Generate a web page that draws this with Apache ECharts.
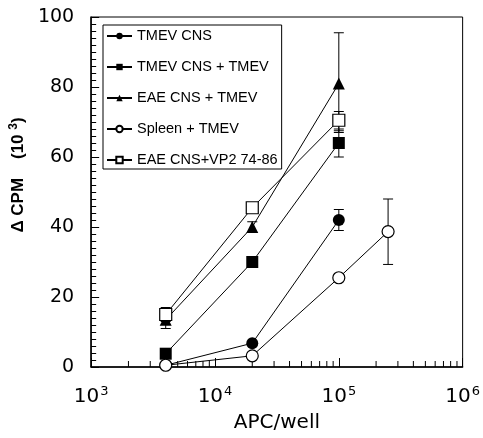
<!DOCTYPE html>
<html><head><meta charset="utf-8">
<script src="https://cdn.jsdelivr.net/npm/echarts@6/dist/echarts.min.js"></script>
<style>html,body{margin:0;padding:0;background:#fff}#c{width:483px;height:438px}</style>
</head><body><div id="c"></div>
<script>
// ---- data ----
const seriesNames = ['TMEV CNS', 'TMEV CNS + TMEV', 'EAE CNS + TMEV', 'Spleen + TMEV', 'EAE CNS+VP2 74-86'];
const xTmevCns = [4000, 20000, 100000];
const yTmevCns = [0.5, 6.8, 42];
const errTmevCns = [[100000, 39, 45]];
const xTmevCnsTmev = [4000, 20000, 100000];
const yTmevCnsTmev = [3.8, 30, 64];
const errTmevCnsTmev = [[100000, 60, 68]];
const xEaeCnsTmev = [4000, 20000, 100000];
const yEaeCnsTmev = [13.5, 40, 81];
const errEaeCnsTmev = [[4000, 11, 16], [20000, 38.5, 41.5], [100000, 67, 95.5]];
const xSpleen = [4000, 20000, 100000, 250000];
const ySpleen = [0.5, 3.2, 25.5, 38.7];
const errSpleen = [[250000, 29.3, 48]];
const xEaeVp2 = [4000, 20000, 100000];
const yEaeVp2 = [15, 45.5, 70.5];
const errEaeVp2 = [[4000, 13, 17], [100000, 67.5, 73]];
const yTicks = [0, 20, 40, 60, 80, 100];
const xDecades = [1000, 10000, 100000, 1000000];
const xMinorTicks = [];
xDecades.slice(0, 3).forEach(d => { for (let k = 2; k <= 9; k++) xMinorTicks.push(d * k); });

const zip = (xs, ys) => xs.map((x, i) => [x, ys[i]]);

const FONT = 'Liberation Sans, Arial, sans-serif';
const chart = echarts.init(document.getElementById('c'), null, { renderer: 'canvas' });

function errRender(params, api) {
  const x = api.value(0), lo = api.value(1), hi = api.value(2);
  const a = api.coord([x, lo]), b = api.coord([x, hi]);
  const w = 5;
  const st = { stroke: '#000', lineWidth: 1 };
  return { type: 'group', children: [
    { type: 'line', shape: { x1: a[0], y1: a[1], x2: b[0], y2: b[1] }, style: st },
    { type: 'line', shape: { x1: a[0] - w, y1: a[1], x2: a[0] + w, y2: a[1] }, style: st },
    { type: 'line', shape: { x1: b[0] - w, y1: b[1], x2: b[0] + w, y2: b[1] }, style: st }
  ]};
}
function errSeries(data) {
  return { type: 'custom', renderItem: errRender, data: data, z: 1, silent: true,
           encode: { x: 0, y: [1, 2] }, clip: false };
}
function lineSeries(name, data, symbol, filled) {
  return {
    name: name, type: 'line', data: data, symbol: symbol, symbolSize: 12,
    z: 3, showSymbol: true,
    lineStyle: { color: '#000', width: 1 },
    itemStyle: { color: filled ? '#000' : '#fff', borderColor: '#000', borderWidth: filled ? 0 : 1.2 },
    emphasis: { disabled: true }, animation: false
  };
}

const option = {
  animation: false,
  grid: { left: 91, right: 20, top: 17, bottom: 71, show: true, borderColor: '#000', borderWidth: 1 },
  legend: {
    orient: 'vertical', left: 103, top: 25, data: seriesNames,
    backgroundColor: '#fff', borderColor: '#000', borderWidth: 1,
    padding: [3, 4, 1, 3], itemGap: 15, itemWidth: 25, itemHeight: 8,
    textStyle: { fontFamily: FONT, fontSize: 14.5, color: '#000', lineHeight: 16 },
    selectedMode: false
  },
  xAxis: {
    type: 'log', logBase: 10, min: 1000, max: 1000000,
    name: 'APC/well', nameLocation: 'middle', nameGap: 46,
    nameTextStyle: { fontFamily: 'DejaVu Sans, sans-serif', fontSize: 20, color: '#000' },
    axisLine: { show: true, lineStyle: { color: '#000', width: 1.5 } },
    axisTick: { show: true, inside: true, length: 9, lineStyle: { color: '#000', width: 1 } },
    splitLine: { show: false },
    axisLabel: {
      margin: 18, color: '#000',
      formatter: v => '{b|10}{s|' + Math.round(Math.log10(v)) + '}',
      rich: {
        b: { fontFamily: 'DejaVu Sans, sans-serif', fontSize: 20, color: '#000' },
        s: { fontFamily: 'DejaVu Sans, sans-serif', fontSize: 13, color: '#000', padding: [0, 0, 10, 1] }
      }
    }
  },
  yAxis: {
    type: 'value', min: 0, max: 100, interval: 20,
    name: '{n|\u0394 CPM    (10 }{s|3}{n|)}', nameLocation: 'middle', nameGap: 60, nameRotate: 90,
    nameTextStyle: {
      padding: [0, 0, 0, 34],
      rich: {
        n: { fontFamily: FONT, fontSize: 17, fontWeight: 'bold', color: '#000' },
        s: { fontFamily: FONT, fontSize: 12, fontWeight: 'bold', color: '#000', padding: [0, 0, 9, 0] }
      }
    },
    axisLine: { show: true, lineStyle: { color: '#000', width: 1.5 } },
    axisTick: { show: true, inside: true, length: 8, lineStyle: { color: '#000', width: 1 } },
    minorTick: { show: true, splitNumber: 10, length: 5, lineStyle: { color: '#000', width: 1 } },
    splitLine: { show: false },
    axisLabel: { margin: 17, color: '#000', fontFamily: 'DejaVu Sans, sans-serif', fontSize: 19,
                 formatter: v => yTicks.includes(v) ? String(v) : '' }
  },
  series: [
    { type: 'custom', silent: true, z: 1, clip: false, data: xMinorTicks.map(v => [v, 0]),
      encode: { x: 0, y: 1 },
      renderItem: (params, api) => {
        const p = api.coord([api.value(0), 0]);
        return { type: 'line', shape: { x1: p[0], y1: p[1], x2: p[0], y2: p[1] - 6 },
                 style: { stroke: '#000', lineWidth: 1 } };
      } },
    errSeries(errTmevCns), errSeries(errTmevCnsTmev), errSeries(errEaeCnsTmev),
    errSeries(errSpleen), errSeries(errEaeVp2),
    lineSeries(seriesNames[0], zip(xTmevCns, yTmevCns), 'circle', true),
    lineSeries(seriesNames[1], zip(xTmevCnsTmev, yTmevCnsTmev), 'rect', true),
    lineSeries(seriesNames[2], zip(xEaeCnsTmev, yEaeCnsTmev), 'triangle', true),
    lineSeries(seriesNames[3], zip(xSpleen, ySpleen), 'circle', false),
    lineSeries(seriesNames[4], zip(xEaeVp2, yEaeVp2), 'rect', false)
  ]
};
chart.setOption(option);
</script></body></html>
